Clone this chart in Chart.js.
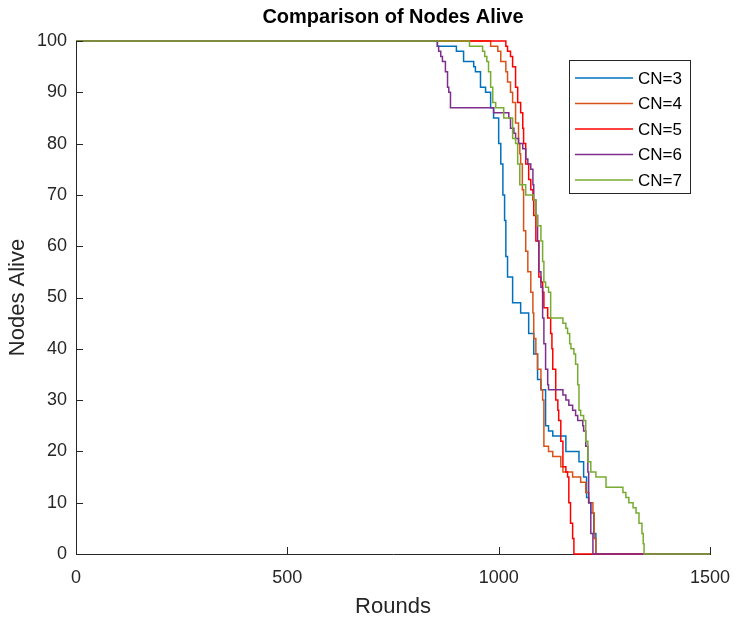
<!DOCTYPE html>
<html>
<head>
<meta charset="utf-8">
<script src="https://cdn.jsdelivr.net/npm/chart.js@4"></script>
<style>
  body { margin: 0; background: #fff; }
  #wrap { width: 738px; height: 632px; }
</style>
</head>
<body>
<div id="wrap"><canvas id="myChart" width="738" height="632"></canvas></div>
<script>
// rounds at which the count changes, and the nodes alive from that round on
const seriesLabels = ['CN=3', 'CN=4', 'CN=5', 'CN=6', 'CN=7'];
const seriesColors = ['#0072BD', '#D95319', '#FF0000', '#7E2F8E', '#77AC30'];

const cn3Rounds = [0, 855, 900, 917, 941, 945, 957, 969, 981, 988, 1000, 1005, 1010, 1014, 1017, 1021, 1033, 1052, 1071, 1083, 1092, 1100, 1111, 1118, 1128, 1159, 1190, 1201, 1208, 1213, 1218, 1225, 1230, 1237, 1500];
const cn3Alive  = [100, 99, 98, 96, 95, 94, 91, 90, 87, 85, 80, 76, 70, 65, 58, 54, 49, 47, 43, 39, 34, 32, 25, 24, 23, 20, 18, 15, 11, 10, 8, 4, 0, 0, 0];

const cn4Rounds = [0, 981, 998, 1005, 1017, 1021, 1028, 1033, 1040, 1047, 1050, 1052, 1056, 1059, 1064, 1069, 1076, 1081, 1083, 1088, 1092, 1100, 1104, 1107, 1118, 1128, 1147, 1152, 1175, 1194, 1206, 1213, 1223, 1226, 1230, 1500];
const cn4Alive  = [100, 99, 98, 96, 94, 92, 90, 88, 84, 80, 78, 76, 71, 63, 59, 55, 51, 47, 42, 39, 36, 32, 30, 21, 20, 19, 17, 16, 15, 14, 12, 10, 8, 3, 0, 0];

const cn5Rounds = [0, 1017, 1021, 1028, 1033, 1040, 1045, 1052, 1057, 1059, 1064, 1071, 1076, 1081, 1083, 1088, 1095, 1100, 1104, 1107, 1116, 1123, 1126, 1128, 1135, 1140, 1142, 1147, 1152, 1159, 1163, 1166, 1170, 1175, 1178, 1500];
const cn5Alive  = [100, 99, 98, 97, 95, 91, 88, 86, 83, 80, 76, 73, 71, 69, 66, 61, 54, 53, 51, 48, 46, 43, 40, 36, 30, 28, 26, 22, 17, 16, 15, 10, 6, 3, 0, 0];

const cn6Rounds = [0, 855, 858, 863, 867, 874, 879, 882, 886, 988, 1024, 1028, 1036, 1040, 1047, 1057, 1064, 1069, 1076, 1081, 1083, 1088, 1092, 1095, 1100, 1104, 1107, 1111, 1116, 1118, 1152, 1159, 1166, 1175, 1182, 1187, 1199, 1201, 1206, 1211, 1213, 1218, 1223, 1500];
const cn6Alive  = [100, 99, 98, 97, 96, 94, 91, 90, 87, 86, 85, 83, 82, 81, 80, 79, 77, 76, 75, 72, 69, 66, 61, 55, 52, 46, 41, 36, 33, 32, 31, 30, 29, 28, 27, 26, 25, 24, 21, 16, 10, 4, 0, 0];

const cn7Rounds = [0, 931, 962, 967, 972, 976, 981, 986, 993, 1012, 1033, 1040, 1045, 1050, 1064, 1083, 1088, 1092, 1100, 1104, 1107, 1111, 1118, 1123, 1152, 1159, 1163, 1168, 1171, 1178, 1182, 1187, 1190, 1194, 1201, 1206, 1211, 1218, 1230, 1254, 1294, 1301, 1308, 1318, 1325, 1332, 1339, 1342, 1344, 1500];
const cn7Alive  = [100, 99, 98, 97, 96, 94, 91, 88, 87, 85, 81, 80, 76, 72, 70, 69, 66, 64, 61, 57, 53, 52, 51, 46, 45, 44, 43, 41, 40, 39, 37, 33, 28, 27, 26, 22, 18, 16, 15, 13, 12, 11, 10, 9, 8, 6, 4, 2, 0, 0];

const roundTicks = [0, 500, 1000, 1500];
const aliveTicks = [0, 10, 20, 30, 40, 50, 60, 70, 80, 90, 100];

const allRounds = [cn3Rounds, cn4Rounds, cn5Rounds, cn6Rounds, cn7Rounds];
const allAlive = [cn3Alive, cn4Alive, cn5Alive, cn6Alive, cn7Alive];

const axisColor = '#262626';
const fontFamily = '"Liberation Sans", Arial, Helvetica, sans-serif';

const datasets = seriesLabels.map((label, i) => ({
  label: label,
  data: allRounds[i].map((r, j) => ({ x: r, y: allAlive[i][j] })),
  borderColor: seriesColors[i],
  backgroundColor: seriesColors[i],
  borderWidth: 1.5,
  pointRadius: 0,
  stepped: true,
  fill: false,
  clip: 4,
  order: seriesLabels.length - i
}));

// inward MATLAB-style ticks
const inwardTicks = {
  id: 'inwardTicks',
  afterDatasetsDraw(chart) {
    const { ctx, chartArea, scales } = chart;
    ctx.save();
    ctx.strokeStyle = axisColor;
    ctx.lineWidth = 1;
    ctx.beginPath();
    roundTicks.forEach(v => {
      const x = Math.round(scales.x.getPixelForValue(v)) + 0.5;
      ctx.moveTo(x, chartArea.bottom);
      ctx.lineTo(x, chartArea.bottom - 7);
    });
    aliveTicks.forEach(v => {
      const y = Math.round(scales.y.getPixelForValue(v)) + 0.5;
      ctx.moveTo(chartArea.left, y);
      ctx.lineTo(chartArea.left + 7, y);
    });
    ctx.stroke();
    ctx.restore();
  }
};

// boxed legend inside the plot, top right
const boxLegend = {
  id: 'boxLegend',
  afterDraw(chart) {
    const { ctx } = chart;
    const x0 = 569, y0 = 60, w = 121, h = 133;
    ctx.save();
    ctx.fillStyle = '#fff';
    ctx.fillRect(x0, y0, w, h);
    ctx.strokeStyle = axisColor;
    ctx.lineWidth = 1;
    ctx.strokeRect(x0 + 0.5, y0 + 0.5, w, h);
    ctx.font = '17px ' + fontFamily;
    ctx.textBaseline = 'middle';
    chart.data.datasets.forEach((ds, i) => {
      const y = y0 + 18 + i * 25.5;
      ctx.strokeStyle = ds.borderColor;
      ctx.lineWidth = 1.5;
      ctx.beginPath();
      ctx.moveTo(x0 + 6, y);
      ctx.lineTo(x0 + 64, y);
      ctx.stroke();
      ctx.fillStyle = '#000';
      ctx.fillText(ds.label, x0 + 69, y + 1);
    });
    ctx.restore();
  }
};

const ctx = document.getElementById('myChart');

new Chart(ctx, {
  type: 'line',
  data: { datasets: datasets },
  options: {
    responsive: false,
    animation: false,
    layout: { padding: { left: 0, right: 28, top: 0, bottom: 0 } },
    plugins: {
      legend: { display: false },
      tooltip: { enabled: false },
      title: {
        display: true,
        text: 'Comparison of Nodes Alive',
        color: '#000',
        fullSize: false,
        font: { family: fontFamily, size: 20, weight: 'bold' },
        padding: { top: 5, bottom: 12 }
      }
    },
    scales: {
      x: {
        type: 'linear',
        min: 0,
        max: 1500,
        afterFit(scale) { scale.height = 78; scale.paddingRight = 0; },
        afterBuildTicks(scale) { scale.ticks = roundTicks.map(v => ({ value: v })); },
        grid: { display: true, drawOnChartArea: false, drawTicks: false },
        border: { display: true, color: axisColor, width: 1 },
        ticks: {
          color: axisColor,
          padding: 13,
          maxRotation: 0,
          callback: v => String(v),
          font: { family: fontFamily, size: 18 }
        },
        title: {
          display: true,
          text: 'Rounds',
          color: axisColor,
          font: { family: fontFamily, size: 22 },
          padding: { top: 0, bottom: 12 }
        }
      },
      y: {
        type: 'linear',
        min: 0,
        max: 100,
        afterFit(scale) { scale.width = 76; },
        afterBuildTicks(scale) { scale.ticks = aliveTicks.map(v => ({ value: v })); },
        grid: { display: true, drawOnChartArea: false, drawTicks: false },
        border: { display: true, color: axisColor, width: 1 },
        ticks: {
          color: axisColor,
          padding: 9,
          callback: v => String(v),
          font: { family: fontFamily, size: 18 }
        },
        title: {
          display: true,
          text: 'Nodes Alive',
          color: axisColor,
          font: { family: fontFamily, size: 22 },
          padding: { top: 5, bottom: 0 }
        }
      }
    }
  },
  plugins: [inwardTicks, boxLegend]
});
</script>
</body>
</html>
